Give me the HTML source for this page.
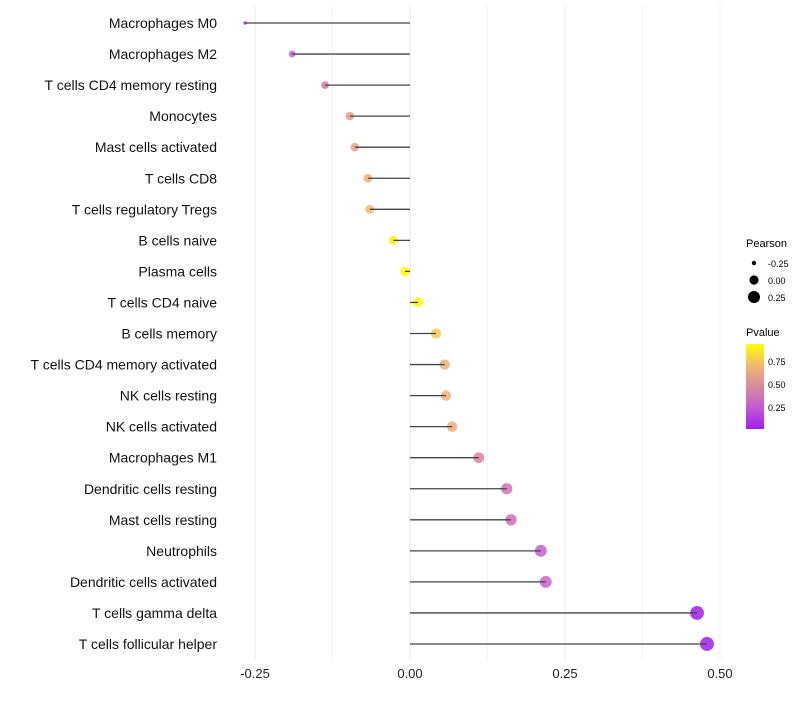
<!DOCTYPE html>
<html><head><meta charset="utf-8"><style>
body{margin:0;background:#fff;font-family:"Liberation Sans",sans-serif}
</style></head><body>
<svg id="chart" width="800" height="700" style="font-family:'Liberation Sans',sans-serif">
<defs><linearGradient id="pg" x1="0" y1="1" x2="0" y2="0">
<stop offset="0" stop-color="#a21ff0"/><stop offset="0.25" stop-color="#c25ad2"/><stop offset="0.5" stop-color="#d88a9e"/><stop offset="0.75" stop-color="#efb870"/><stop offset="1" stop-color="#ffff00"/></linearGradient></defs>
<g id="grid"></g><g id="marks"></g><g id="labels"></g>
<g>
<text x="746" y="247" font-size="11" fill="#000">Pearson</text>
<circle cx="754" cy="263" r="2.2" fill="#000"/><text x="768" y="267" font-size="9">-0.25</text>
<circle cx="754" cy="280" r="4.6" fill="#000"/><text x="768" y="284" font-size="9">0.00</text>
<circle cx="754" cy="297" r="6" fill="#000"/><text x="768" y="301" font-size="9">0.25</text>
</g>
<g>
<text x="746" y="336" font-size="11">Pvalue</text>
<rect x="746" y="344" width="18" height="85" fill="url(#pg)"/>
<text x="768" y="365" font-size="9">0.75</text><text x="768" y="388" font-size="9">0.50</text><text x="768" y="411" font-size="9">0.25</text>
</g>
</svg>
<script>
const cats=["Macrophages M0","Macrophages M2","T cells CD4 memory resting","Monocytes","Mast cells activated","T cells CD8","T cells regulatory  Tregs","B cells naive","Plasma cells","T cells CD4 naive","B cells memory","T cells CD4 memory activated","NK cells resting","NK cells activated","Macrophages M1","Dendritic cells resting","Mast cells resting","Neutrophils","Dendritic cells activated","T cells gamma delta","T cells follicular helper"];
const pearson=[-0.266,-0.190,-0.137,-0.097,-0.089,-0.068,-0.065,-0.027,-0.008,0.013,0.042,0.056,0.058,0.068,0.111,0.156,0.163,0.211,0.219,0.463,0.479];
const pvals=[0.1,0.3,0.45,0.6,0.62,0.7,0.72,0.9,0.97,0.95,0.78,0.7,0.7,0.67,0.5,0.4,0.38,0.28,0.3,0.03,0.02];
const ticks=[-0.25,0,0.25,0.5];
const tickLabels=["-0.25","0.00","0.25","0.50"];
const NS="http://www.w3.org/2000/svg";
const x=v=>410+v*620;
const y=i=>23+i*31.05;
const r=v=>1.7+6.1*Math.sqrt(Math.max(0,v+0.266));
const stops=[[0,[162,31,240]],[0.25,[196,88,214]],[0.5,[222,128,160]],[0.75,[242,184,112]],[1,[255,255,0]]];
function col(p){let t=Math.min(1,Math.max(0,(p-0.03)/0.92));for(let k=1;k<stops.length;k++){if(t<=stops[k][0]){const a=stops[k-1],b=stops[k],f=(t-a[0])/(b[0]-a[0]);return "rgb("+a[1].map((c,j)=>Math.round(c+(b[1][j]-c)*f)).join(",")+")";}}return "rgb(255,255,0)";}
function mk(tag,attrs,parent){const e=document.createElementNS(NS,tag);for(const k in attrs)e.setAttribute(k,attrs[k]);document.getElementById(parent).appendChild(e);return e;}
const minor=[-0.125,0.125,0.375];
minor.concat(ticks).forEach(t=>{const g=mk("line",{x1:x(t),x2:x(t),y1:5,y2:660,stroke:"#ebebeb","stroke-width":ticks.includes(t)?1:0.6},"grid");

});
ticks.forEach((t,i)=>{const e=mk("text",{x:x(t),y:678,"font-size":13,"text-anchor":"middle",fill:"#222"},"labels");e.textContent=tickLabels[i];

});
cats.forEach((c,i)=>{
const t=mk("text",{x:217,y:y(i)+5,"font-size":14,"text-anchor":"end",fill:"#111"},"labels");t.textContent=c;


const d=mk("circle",{cx:x(pearson[i]),cy:y(i),r:r(pearson[i]),fill:col(pvals[i]),"fill-opacity":0.85},"marks");


const l=mk("line",{x1:x(0),x2:x(pearson[i]),y1:y(i),y2:y(i),stroke:"#444","stroke-width":1.3},"marks");


});
</script>
</body></html>
